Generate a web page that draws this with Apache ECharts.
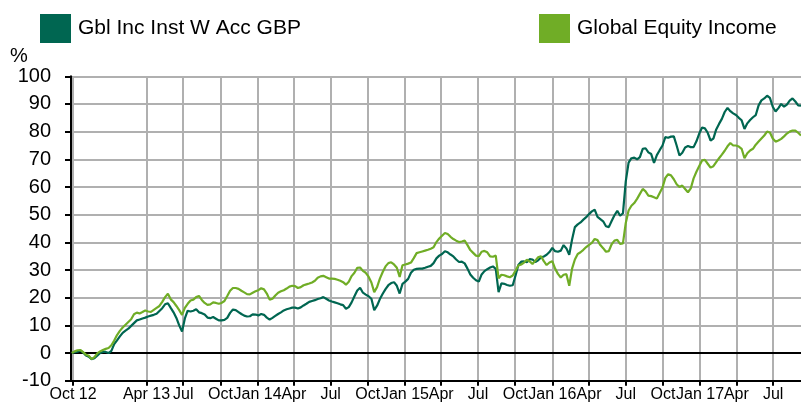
<!DOCTYPE html>
<html>
<head>
<meta charset="utf-8">
<script src="https://cdn.jsdelivr.net/npm/echarts@6/dist/echarts.min.js"></script>
<style>
  html, body { margin: 0; padding: 0; background: #ffffff; }
  #chart { width: 801px; height: 405px; }
</style>
</head>
<body>
<div id="chart"></div>
<script>
// Cumulative performance (%), weekly closes from Friday 28 Sep 2012
const seriesNames = ['Gbl Inc Inst W Acc GBP', 'Global Equity Income'];
const firstWeek = [2012, 8, 28];
const axisStart = [2012, 8, 26];
const axisEnd = [2017, 8, 8];

const gblInc = [
  0, 0.3, 0.5, 0.9, 0.2, -0.9, -1.3, -2.2, -1.9, -1.0,
  0.0, 0.4, 0.4, 0.0, 0.8, 3.2, 4.6, 6.0, 7.3, 8.1,
  8.8, 9.8, 10.8, 11.8, 12.1, 12.5, 12.8, 13.2, 13.5, 13.8,
  14.2, 15.2, 16.2, 17.6, 18.0, 16.3, 14.7, 12.7, 10.0, 7.8,
  12.5, 15.3, 15.0, 15.3, 15.8, 14.7, 14.4, 13.9, 12.8, 12.6,
  13.0, 12.4, 11.8, 11.8, 12.0, 12.7, 14.5, 15.7, 15.5, 14.8,
  14.1, 13.5, 13.2, 13.3, 14.0, 13.9, 13.6, 14.1, 13.8, 12.8,
  12.1, 12.7, 13.4, 14.1, 14.7, 15.4, 15.8, 16.1, 16.4, 16.4,
  16.1, 16.5, 17.2, 17.8, 18.5, 18.8, 19.1, 19.5, 19.8, 20.2,
  19.6, 19.0, 18.6, 18.3, 18.0, 17.6, 17.3, 16.0, 16.6, 18.3,
  20.5, 22.6, 23.6, 21.8, 21.1, 20.5, 19.6, 15.5, 17.1, 19.5,
  21.4, 23.1, 24.5, 25.3, 25.6, 24.3, 21.5, 25.0, 25.8, 26.8,
  29.0, 30.1, 30.4, 30.5, 30.5, 30.8, 31.2, 31.5, 32.5, 34.2,
  35.2, 35.8, 36.8, 36.4, 35.6, 34.9, 33.8, 32.9, 33.0, 32.4,
  30.5, 28.4, 27.2, 26.3, 25.8, 28.4, 29.6, 30.3, 30.9, 31.3,
  30.4, 22.0, 25.2, 25.0, 24.6, 24.3, 24.5, 28.0, 31.8, 33.0,
  33.1, 32.8, 33.9, 33.8, 32.9, 33.5, 34.5, 34.9, 35.5, 36.5,
  38.0, 36.8, 36.6, 37.0, 39.0, 37.8, 35.5, 41.0, 45.5, 46.5,
  47.2, 48.2, 49.1, 50.2, 51.2, 51.8, 49.2, 48.4, 47.6, 45.8,
  45.5, 47.7, 49.8, 51.4, 49.6, 50.5, 62.0, 68.8, 70.4, 70.6,
  70.0, 70.8, 73.8, 74.0, 72.5, 71.9, 68.7, 71.5, 73.3, 75.0,
  78.0, 77.8, 78.2, 78.3, 75.0, 71.4, 72.4, 74.3, 74.8, 74.4,
  74.4, 76.5, 79.3, 81.5, 81.2, 79.6, 76.8, 77.5, 80.8, 82.8,
  84.6, 87.1, 88.6, 87.4, 86.6, 86.0, 85.0, 84.1, 81.0, 83.0,
  84.2, 85.2, 86.0, 89.5, 91.3, 92.0, 93.0, 92.2, 89.0, 87.3,
  88.5, 90.0, 89.0, 89.8, 91.2, 92.0, 90.9, 89.5, 89.4
];

const globalEq = [
  0, 0.6, 1.0, 1.1, 0.3, -0.6, -1.0, -2.2, -1.5, -0.1,
  0.6, 1.1, 1.5, 1.8, 2.8, 4.5, 6.5, 8.0, 9.2, 10.2,
  11.2, 12.2, 14.0, 14.6, 14.3, 14.8, 15.4, 15.0, 14.9, 15.6,
  16.3, 17.0, 18.5, 20.2, 21.4, 19.4, 18.4, 17.0, 15.5, 13.8,
  16.3, 17.8, 19.0, 19.3, 20.2, 20.6, 19.2, 18.1, 17.4, 17.6,
  18.3, 18.1, 17.8, 18.1, 18.8, 20.6, 22.5, 23.5, 23.5, 23.2,
  22.5, 21.9, 21.3, 21.2, 21.8, 22.3, 22.7, 23.4, 23.0, 21.5,
  19.3, 19.6, 20.8, 21.8, 22.3, 22.7, 23.3, 24.0, 24.3, 24.2,
  23.5, 23.8, 24.5, 24.8, 25.1, 25.5, 26.1, 27.2, 27.7, 27.9,
  27.4, 26.9, 26.9, 26.8, 26.5, 26.1, 25.6, 24.7, 25.8, 27.8,
  29.0, 30.8, 30.9, 29.7, 29.0, 27.6, 25.5, 22.0, 23.8, 26.9,
  29.3, 31.3, 32.5, 32.8, 32.0, 30.8, 27.5, 31.7, 32.0, 32.3,
  32.7, 34.3, 36.1, 36.4, 36.7, 37.0, 37.3, 37.7, 38.2, 40.1,
  41.4, 42.4, 43.4, 43.0, 42.0, 41.2, 40.6, 40.1, 40.3, 40.6,
  39.0, 37.2, 36.2, 35.2, 35.0, 36.6, 36.9, 36.4, 34.9, 34.8,
  35.2, 27.0, 28.3, 28.1, 27.7, 27.4, 28.0, 29.8, 31.6, 32.0,
  32.7, 33.7, 33.1, 32.2, 33.4, 34.6, 35.0, 33.2, 31.8, 32.7,
  33.2, 30.5, 28.6, 27.3, 28.3, 28.5, 24.3, 30.5, 33.8, 35.8,
  36.4, 37.3, 38.3, 39.1, 39.8, 41.2, 40.8, 39.0, 37.9, 36.6,
  36.8, 39.3, 40.6, 40.9, 39.4, 39.6, 47.0, 51.5, 53.2, 54.2,
  55.7, 57.5, 59.3, 58.4, 56.9, 56.7, 56.3, 55.8, 57.8, 59.8,
  63.3, 64.6, 64.2, 62.8, 61.0, 60.0, 60.5, 59.3, 58.1, 59.5,
  63.1, 65.5, 67.6, 69.6, 69.8, 68.4, 67.0, 67.5, 69.0, 70.4,
  71.7, 73.1, 74.7, 75.9, 75.0, 75.0, 74.6, 73.8, 70.4, 72.2,
  73.2, 73.8, 75.3, 76.4, 77.5, 78.6, 80.0, 79.7, 77.5, 76.4,
  76.8, 77.4, 78.3, 79.3, 80.0, 80.4, 80.4, 79.6, 78.6
];

// Quarter ticks on the date axis: [year, monthIndex]
const tickMonths = [
  [2012, 9], [2013, 3], [2013, 6], [2013, 9],
  [2014, 0], [2014, 3], [2014, 6], [2014, 9],
  [2015, 0], [2015, 3], [2015, 6], [2015, 9],
  [2016, 0], [2016, 3], [2016, 6], [2016, 9],
  [2017, 0], [2017, 3], [2017, 6]
];
const tickLabels = [
  'Oct 12', 'Apr 13', 'Jul', 'Oct',
  'Jan 14', 'Apr', 'Jul', 'Oct',
  'Jan 15', 'Apr', 'Jul', 'Oct',
  'Jan 16', 'Apr', 'Jul', 'Oct',
  'Jan 17', 'Apr', 'Jul'
];
const yTicks = { min: -10, max: 100, step: 10 };

const colors = { fund: '#006651', sector: '#70ad26' };
const font = '"Liberation Sans", Arial, sans-serif';

// The x axis counts days from the axis start date
const DAY = 86400000;
const utc = (y, m, d) => Date.UTC(y, m, d);
const origin = utc(axisStart[0], axisStart[1], axisStart[2]);
const dayOf = (y, m, d) => Math.round((utc(y, m, d) - origin) / DAY);
const weekDay = (k) => dayOf(firstWeek[0], firstWeek[1], firstWeek[2] + 7 * k);
const toPairs = (arr) => arr.map((v, k) => [weekDay(k), v]);

const tickDays = tickMonths.map(([y, m]) => dayOf(y, m, 1));
const labelFor = {};
tickDays.forEach((d, i) => { labelFor[d] = tickLabels[i]; });

const chart = echarts.init(document.getElementById('chart'), null, { renderer: 'canvas' });

const legendBase = {
  orient: 'horizontal',
  top: 14,
  padding: 0,
  itemGap: 0,
  itemWidth: 31,
  itemHeight: 29,
  icon: 'rect',
  selectedMode: false,
  textStyle: { fontSize: 21, color: '#000', fontFamily: font, padding: [0, 0, 8, 2] }
};

chart.setOption({
  animation: false,
  backgroundColor: '#ffffff',
  textStyle: { fontFamily: font },
  legend: [
    Object.assign({}, legendBase, { left: 40, data: [seriesNames[0]] }),
    Object.assign({}, legendBase, { left: 539, data: [seriesNames[1]] })
  ],
  graphic: [{
    type: 'text', left: 10, top: 46,
    style: { text: '%', fontSize: 20, fill: '#000', fontFamily: font }
  }],
  grid: { left: 71, right: 0, top: 76.3, bottom: 24.3, containLabel: false },
  xAxis: {
    type: 'value',
    min: 0,
    max: dayOf(axisEnd[0], axisEnd[1], axisEnd[2]),
    axisLine: { show: true, onZero: false, lineStyle: { color: '#000', width: 2 } },
    axisTick: { show: true, customValues: tickDays, length: 5, lineStyle: { color: '#000', width: 2 } },
    axisLabel: {
      customValues: tickDays,
      formatter: (v) => labelFor[v] || '',
      fontSize: 16, color: '#000', margin: 6, hideOverlap: false, fontFamily: font
    },
    splitLine: { show: true, lineStyle: { color: '#b0b0b0', width: 2 } }
  },
  yAxis: {
    type: 'value',
    min: yTicks.min, max: yTicks.max, interval: yTicks.step,
    axisLine: { show: true, onZero: false, lineStyle: { color: '#000', width: 2 } },
    axisTick: { show: true, length: 6, lineStyle: { color: '#000', width: 2 } },
    axisLabel: { fontSize: 20, color: '#000', margin: 20, fontFamily: font },
    splitLine: { show: true, lineStyle: { color: '#b0b0b0', width: 2 } }
  },
  series: [
    {
      name: seriesNames[0],
      type: 'line',
      data: toPairs(gblInc),
      showSymbol: false,
      symbol: 'none',
      color: colors.fund,
      itemStyle: { color: colors.fund },
      lineStyle: { color: colors.fund, width: 2.2 },
      z: 3,
      markLine: {
        silent: true,
        symbol: ['none', 'none'],
        label: { show: false },
        lineStyle: { color: '#000', width: 2, type: 'solid' },
        data: [{ yAxis: 0 }],
        z: 2
      }
    },
    {
      name: seriesNames[1],
      type: 'line',
      data: toPairs(globalEq),
      showSymbol: false,
      symbol: 'none',
      color: colors.sector,
      itemStyle: { color: colors.sector },
      lineStyle: { color: colors.sector, width: 2.2 },
      z: 4
    }
  ]
});
</script>
</body>
</html>
